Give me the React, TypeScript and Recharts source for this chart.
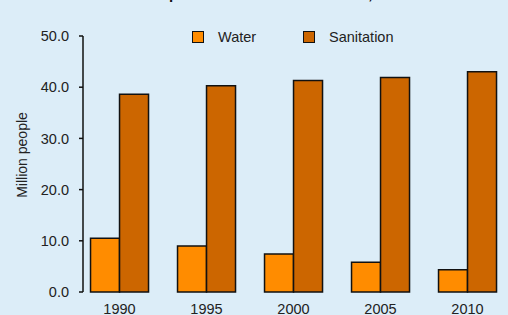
import { Bar, BarChart, Legend, XAxis, YAxis } from 'recharts';

const years = ['1990', '1995', '2000', '2005', '2010'];
const water = [10.5, 9.0, 7.4, 5.8, 4.35];
const sanitation = [38.6, 40.3, 41.3, 41.9, 43.0];
const yTicks = [0, 10, 20, 30, 40, 50];

const data = years.map((year, i) => ({ year, water: water[i], sanitation: sanitation[i] }));

const font = "'Liberation Sans', Arial, sans-serif";

function LegendBox() {
  const items = [
    { label: 'Water', color: '#ff8c00' },
    { label: 'Sanitation', color: '#cc6600' }
  ];
  return (
    <div style={{ display: 'flex', fontFamily: font, fontSize: 14.5, color: '#222' }}>
      {items.map((it) => (
        <div key={it.label} style={{ display: 'flex', alignItems: 'center', width: 111 }}>
          <span
            style={{
              display: 'inline-block',
              width: 10,
              height: 10,
              background: it.color,
              border: '1.5px solid #111',
              marginRight: 14
            }}
          />
          <span>{it.label}</span>
        </div>
      ))}
    </div>
  );
}

export default function App() {
  return (
    <div
      style={{
        position: 'absolute',
        left: 0,
        top: 0,
        width: 508,
        height: 315,
        overflow: 'hidden',
        background: '#dcedf8'
      }}
    >
      <div
        style={{
          position: 'absolute',
          left: 0,
          width: 580,
          top: -15,
          textAlign: 'center',
          fontFamily: font,
          fontWeight: 'bold',
          fontSize: 15,
          color: '#111'
        }}
      >
        Unimproved water and sanitation, 1990-2010
      </div>
      <BarChart
        width={508}
        height={315}
        data={data}
        margin={{ top: 20, right: 0, bottom: 0, left: 0 }}
        barGap={0}
        barCategoryGap="16.7%"
      >
        <XAxis
          dataKey="year"
          axisLine={false}
          tickLine={false}
          tickMargin={6}
          height={23}
          padding={{ left: -7, right: -3 }}
          tick={{ fill: '#222', fontSize: 14.5, fontFamily: font }}
        />
        <YAxis
          width={83}
          domain={[0, 50]}
          ticks={yTicks}
          tickFormatter={(v: number) => v.toFixed(1)}
          tickSize={4}
          tickMargin={10}
          axisLine={{ stroke: '#111', strokeWidth: 1.5 }}
          tickLine={{ stroke: '#111', strokeWidth: 1.5 }}
          tick={{ fill: '#222', fontSize: 14.5, fontFamily: font }}
          label={{
            content: () => (
              <text
                x={27}
                y={155}
                transform="rotate(-90 27 155)"
                textAnchor="middle"
                fill="#222"
                fontSize={14}
                fontFamily={font}
              >
                Million people
              </text>
            )
          }}
        />
        <Legend
          verticalAlign="top"
          content={() => <LegendBox />}
          wrapperStyle={{ top: 29, left: 192, width: 240 }}
        />
        <Bar dataKey="water" name="Water" fill="#ff8c00" stroke="#111" strokeWidth={1.5} isAnimationActive={false} />
        <Bar dataKey="sanitation" name="Sanitation" fill="#cc6600" stroke="#111" strokeWidth={1.5} isAnimationActive={false} />
      </BarChart>
    </div>
  );
}
